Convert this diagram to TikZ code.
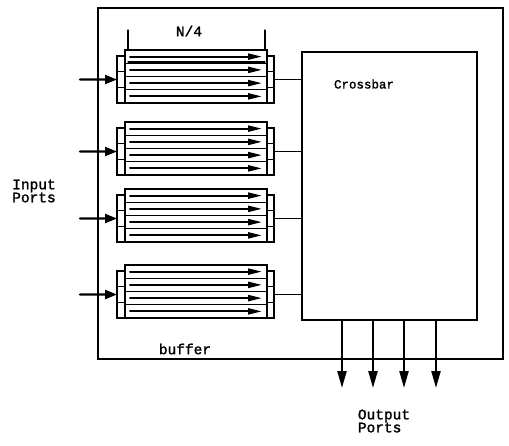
\documentclass[tikz,border=0pt]{standalone}
\usepackage{fontspec}
\newfontfamily\typefont[FakeBold=1.6]{Liberation Mono}
\usetikzlibrary{arrows.meta}

\tikzset{
  frame/.style   = {draw, line width=1.8pt, inner sep=0pt, outer sep=0pt},
  lane/.style    = {draw, line width=1.2pt, minimum width=142pt, minimum height=13.25pt, inner sep=0pt, outer sep=0pt},
  cell/.style    = {draw, line width=1.1pt, minimum width=8pt, minimum height=15.67pt, inner sep=0pt, outer sep=0pt},
  lanearrow/.style = {-{Triangle[length=14pt,width=6pt]}, line width=2pt},
  portarrow/.style = {-{Triangle[length=17pt,width=9pt]}, line width=2.2pt},
  tag/.style     = {font=\typefont\fontsize{14.5}{13}\selectfont, inner sep=0pt, align=left}
}

\begin{document}
\begin{tikzpicture}[x=1pt, y=-1pt, line cap=round]

  \useasboundingbox (0,0) rectangle (509,445);

  % switch outline and crossbar (y grows downwards)
  \node[frame, minimum width=405pt, minimum height=351pt] (switch) at (300.5,183.5) {};
  \node[frame, line width=2.4pt, minimum width=175pt, minimum height=268pt] (xbar) at (389.5,186) {};
  \node[tag, font=\typefont\fontsize{12.5}{13}\selectfont] (xlbl) at (364,84) {Crossbar};

  % four buffer groups: top edge of each
  \foreach \g/\t in {1/50, 2/122, 3/189, 4/265} {
    % N/4 lanes
    \foreach \k in {1,...,4} {
      \node[lane] (l\g\k) at (196, \t+13.25*\k-6.625) {};
      \draw[lanearrow] ([xshift=5pt]l\g\k.west) -- ([xshift=-5pt]l\g\k.east);
    }
    % input / output register cells
    \foreach \k in {1,2,3} {
      \node[cell] (in\g\k)  at (121, \t+6+15.67*\k-7.83) {};
      \node[cell, minimum width=7pt] (out\g\k) at (270.5, \t+6+15.67*\k-7.83) {};
    }
    \coordinate (src\g) at (80, \t+29.5);
    \draw[portarrow, -{Triangle[length=12pt,width=9pt]}] (src\g) -- (in\g2.west);
    \draw[line width=1.4pt] (out\g2.east) -- (out\g2.east -| xbar.west);
  }

  % N/4 dimension
  \coordinate (dimA) at ([xshift=3pt]l11.north west);
  \coordinate (dimB) at ([xshift=-2pt]l11.north east);
  \draw[line width=1.3pt] (dimA) -- ++(0,-20);
  \draw[line width=1.3pt] (dimB) -- ++(0,-20);
  \draw[line width=1.3pt] ([yshift=-12pt]dimA) -- ([yshift=-12pt]dimB);
  \node[tag] (dimlbl) at (189,31) {N/4};

  % output ports
  \foreach \i/\x in {1/342, 2/373, 3/404, 4/436} {
    \coordinate (port\i) at (\x,388);
    \draw[portarrow] (port\i |- xbar.south) -- (port\i);
  }

  % labels
  \node[tag] (inlbl)  at (34,191)  {Input\\Ports};
  \node[tag] (outlbl) at (384,421) {Output\\Ports};
  \node[tag] (buflbl) at (185,349) {buffer};

\end{tikzpicture}
\end{document}
